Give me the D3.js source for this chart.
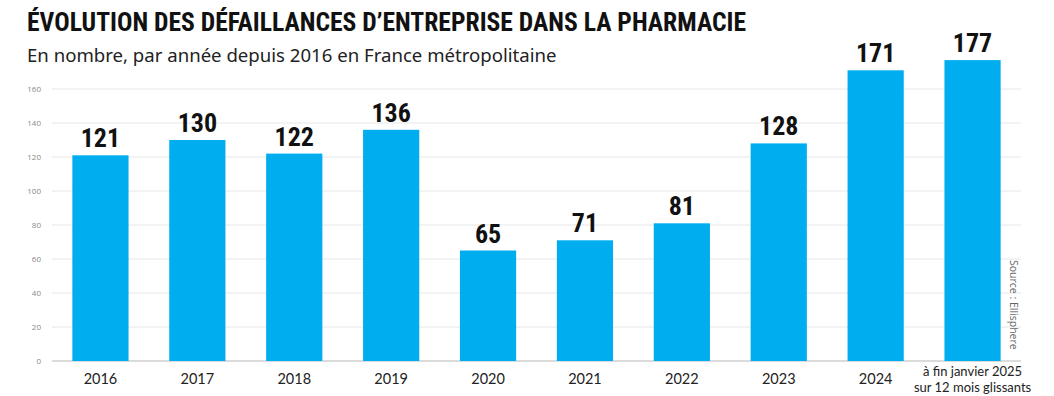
<!DOCTYPE html>
<html><head><meta charset="utf-8">
<script src="https://cdn.jsdelivr.net/npm/d3@7"></script>
<style>body{margin:0;background:#fff}svg{display:block}</style>
</head><body><svg id="c" width="1054" height="396"></svg>
<script>
const categories = ["2016","2017","2018","2019","2020","2021","2022","2023","2024","à fin janvier 2025|sur 12 mois glissants"];
const values = [121,130,122,136,65,71,81,128,171,177];
const yTicks = [0,20,40,60,80,100,120,140,160];
const title = "ÉVOLUTION DES DÉFAILLANCES D’ENTREPRISE DANS LA PHARMACIE";
const subtitle = "En nombre, par année depuis 2016 en France métropolitaine";
const source = "Source : Ellisphere";

const svg = d3.select("#c");
const x = d3.scaleBand().domain(categories).range([52,1021]).paddingInner(0.42).paddingOuter(0.21);
const y = d3.scaleLinear().domain([0,160]).range([361,89]);
const condensed = "'Roboto Condensed','Liberation Sans Narrow','Liberation Sans',sans-serif";

svg.append("text").attr("x",27).attr("y",31).text(title)
  .attr("font-family",condensed)
  .attr("font-weight","bold").attr("font-size",25.6).attr("fill","#111");
svg.append("text").attr("x",27).attr("y",62).text(subtitle)
  .attr("font-family","'Noto Sans','Open Sans',sans-serif").attr("font-size",18.6).attr("fill","#222");

const grid = svg.append("g");
grid.selectAll("line").data(yTicks).join("line")
  .attr("x1",52).attr("x2",1021).attr("y1",d=>y(d)).attr("y2",d=>y(d))
  .attr("stroke",d=>d===0?"#cfcfcf":"#e6e6e6").attr("stroke-width",d=>d===0?1.5:1);
const yAxis = d3.axisLeft(y).tickValues(yTicks).tickSize(0).tickPadding(0);
svg.append("g").attr("transform","translate(41,0)").call(yAxis)
  .call(g=>g.select(".domain").remove())
  .call(g=>g.selectAll("text").attr("font-family","'Open Sans',sans-serif").attr("font-size",8).attr("fill","#888"));

svg.append("g").selectAll("rect").data(values).join("rect")
  .attr("x",(d,i)=>x(categories[i])).attr("width",x.bandwidth())
  .attr("y",d=>y(d)).attr("height",d=>y(0)-y(d)).attr("fill","#00AEEF");

svg.append("g").selectAll("text").data(values).join("text")
  .attr("x",(d,i)=>x(categories[i])+x.bandwidth()/2).attr("y",d=>y(d)-8)
  .attr("text-anchor","middle").text(d=>d)
  .attr("font-family",condensed).attr("font-weight","bold")
  .attr("font-size",26).attr("fill","#111");

const xl = svg.append("g").selectAll("text").data(categories).join("text")
  .attr("x",d=>x(d)+x.bandwidth()/2).attr("text-anchor","middle")
  .attr("font-family","'Lato','Open Sans',sans-serif").attr("fill","#222");
xl.each(function(d){
  const parts = d.split("|");
  const t = d3.select(this);
  if(parts.length===1){ t.attr("y",384).attr("font-size",14.5).text(d); }
  else {
    t.attr("font-size",13);
    parts.forEach((p,i)=>t.append("tspan").attr("x",x(d)+x.bandwidth()/2).attr("y",376+i*16).text(p));
  }
});

svg.append("text").attr("transform","translate(1010,260) rotate(90)").text(source)
  .attr("font-family","'Open Sans',sans-serif").attr("font-size",10.5).attr("fill","#666");
</script></body></html>
